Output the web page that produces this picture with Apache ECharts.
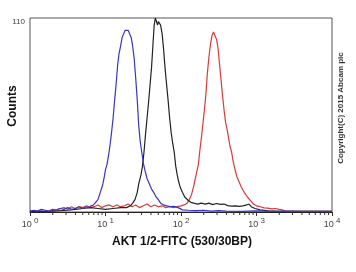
<!DOCTYPE html>
<html>
<head>
<meta charset="utf-8">
<script src="https://cdn.jsdelivr.net/npm/echarts@6/dist/echarts.min.js"></script>
<style>
html,body{margin:0;padding:0;background:#fff;}
#chart{width:356px;height:272px;}
</style>
</head>
<body>
<div id="chart"></div>
<script>
// Histogram data: x positions as log10(intensity) exponents, y = counts
const redLogX = [0.00,0.10,0.20,0.30,0.40,0.45,0.50,0.55,0.60,0.65,0.70,0.75,0.80,0.85,0.90,0.95,1.00,1.05,1.10,1.15,1.20,1.25,1.30,1.35,1.40,1.45,1.50,1.55,1.60,1.65,1.70,1.75,1.80,1.85,1.90,1.95,2.00,2.04,2.08,2.11,2.14,2.17,2.20,2.23,2.25,2.27,2.29,2.31,2.33,2.35,2.37,2.39,2.41,2.43,2.45,2.47,2.49,2.51,2.53,2.55,2.57,2.59,2.61,2.63,2.65,2.67,2.69,2.71,2.74,2.77,2.80,2.84,2.88,2.92,2.96,3.00,3.05,3.10,3.15,3.20,3.25,3.30,3.34,3.38,3.60,4.00];
const redCounts = [0.3,0.5,0.4,0.8,2,2.5,1.5,3,2,3,2.5,3.5,2.5,3,4,2.5,3.5,4,3,4,3,3.5,4.5,3,4,2.5,3.5,4.5,3,4,3,3.5,2.5,3,2.5,3,3.5,4,5,7,10,15,21,27,35,42,50,58,67,79,88,95,100,102,101,98,93,84,75,66,58,51,47,42,37,34,29,25,20,17,14,11,8.5,6.5,4.5,3.5,3,2.3,2.2,1.8,2,1.5,1.2,0.5,0.3,0.3];

const blackLogX = [0.00,0.30,0.50,0.60,0.70,0.80,0.90,1.00,1.10,1.20,1.28,1.33,1.36,1.39,1.42,1.44,1.47,1.49,1.51,1.53,1.55,1.57,1.59,1.61,1.63,1.645,1.66,1.675,1.69,1.70,1.715,1.73,1.75,1.77,1.79,1.81,1.83,1.85,1.87,1.89,1.91,1.93,1.95,1.97,1.99,2.02,2.05,2.09,2.13,2.17,2.22,2.27,2.32,2.37,2.42,2.47,2.52,2.57,2.62,2.67,2.72,2.77,2.82,2.87,2.90,2.93,2.98,3.05,3.15,3.30,3.60,4.00];
const blackCounts = [0.3,0.5,1,1.5,2,2.5,2,1.5,2,2.5,2.5,3.5,5,7,11,16,21,26,34,44,53,62,72,82,96,106,110,108,106,108,109,106,101,92,81,72,63,53,45,39,34,26,21,17,14,11,8.5,6.8,5.5,5,4.5,5,4.5,5,4.2,4.8,4.3,4.5,3.6,3.3,3.5,3.2,3.5,4,4.5,3,2,1.2,0.6,0.4,0.3,0.3];

const blueLogX = [0.00,0.05,0.10,0.15,0.20,0.25,0.30,0.35,0.40,0.45,0.50,0.55,0.60,0.65,0.70,0.74,0.78,0.81,0.84,0.87,0.90,0.93,0.96,0.98,1.00,1.02,1.04,1.06,1.08,1.10,1.12,1.14,1.16,1.18,1.20,1.22,1.24,1.26,1.28,1.30,1.32,1.34,1.36,1.38,1.40,1.42,1.44,1.46,1.48,1.50,1.52,1.55,1.58,1.61,1.64,1.67,1.70,1.73,1.77,1.81,1.86,1.91,1.96,2.02,2.10,2.20,2.30,2.40,2.50,2.60,2.80,3.00,3.20,3.40,3.60,3.80,4.00];
const blueCounts = [0.5,1,0.5,1.5,1,0.5,1.5,1,2,1.5,2.5,1.5,2,3,2,3,2.5,3.5,4,5.5,7,11,15,19,24,27,32,38,45,53,63,72,83,90,94,99,101,103,104,103,102,99,94,87,76,64,49,40,34,28,24,19,16,13,11,8.5,7,5,4,3.5,3,3.2,2.5,1.2,1,0.8,1,0.5,0.8,0.5,0.4,0.6,0.3,0.5,0.3,0.4,0.3];

const xTickExponents = [0, 1, 2, 3, 4];
const yTickLabels = ['110'];
const minorTickMultipliers = [2, 3, 4, 5, 6, 7, 8, 9];

const xTitle = 'AKT 1/2-FITC (530/30BP)';
const yTitle = 'Counts';
const copyright = 'Copyright(C) 2015 Abcam plc';

const FONT = '"Liberation Sans", Arial, sans-serif';

function toPairs(logX, counts) {
  return logX.map((l, i) => [Math.pow(10, l), counts[i]]);
}

const minorTicks = [];
for (let d = 0; d < 4; d++) {
  minorTickMultipliers.forEach(m => minorTicks.push([m * Math.pow(10, d), 0]));
}

const chart = echarts.init(document.getElementById('chart'), null, {renderer: 'canvas'});
chart.setOption({
  animation: false,
  backgroundColor: '#fff',
  grid: {left: 30, top: 18, right: 24, bottom: 60, show: true, borderColor: '#555', borderWidth: 1, backgroundColor: 'transparent'},
  xAxis: {
    type: 'log',
    logBase: 10,
    min: 1,
    max: 10000,
    axisLine: {show: true, lineStyle: {color: '#222', width: 1}},
    axisTick: {show: true, length: 4, lineStyle: {color: '#333'}},
    splitLine: {show: false},
    axisLabel: {
      margin: 4,
      formatter: function (v) {
        const e = Math.round(Math.log10(v));
        return '{a|10}{b| ' + e + '}';
      },
      rich: {
        a: {fontSize: 9, fontFamily: FONT, color: '#444', padding: [4, 0, 0, 0]},
        b: {fontSize: 8, fontFamily: FONT, color: '#444', padding: [0, 0, 4, 0]}
      }
    }
  },
  yAxis: {
    type: 'value',
    min: 0,
    max: 110,
    interval: 110,
    axisLine: {show: false},
    axisTick: {show: false},
    splitLine: {show: false},
    axisLabel: {
      margin: 5,
      fontSize: 8,
      fontFamily: FONT,
      color: '#444',
      verticalAlign: 'top',
      formatter: function (v) { return v === 110 ? yTickLabels[0] : ''; }
    }
  },
  graphic: [
    {type: 'text', left: 112, top: 236, style: {text: xTitle, font: 'bold 12px ' + FONT, fill: '#111'}},
    {type: 'text', x: 13, y: 106, rotation: Math.PI / 2, style: {text: yTitle, font: 'bold 12px ' + FONT, fill: '#111', align: 'center', verticalAlign: 'middle'}},
    {type: 'text', x: 341, y: 108, rotation: Math.PI / 2, style: {text: copyright, font: 'bold 8px ' + FONT, fill: '#333', align: 'center', verticalAlign: 'middle'}}
  ],
  series: [
    {type: 'custom', silent: true, clip: false, data: minorTicks, z: 5,
     renderItem: function (params, api) {
       const p = api.coord([api.value(0), 0]);
       return {type: 'line', shape: {x1: p[0], y1: p[1], x2: p[0], y2: p[1] + 3}, style: {stroke: '#333', lineWidth: 1}};
     }},
    {type: 'line', data: toPairs(redLogX, redCounts), showSymbol: false, lineStyle: {color: '#d93a3a', width: 1.2}, z: 2, clip: true},
    {type: 'line', data: toPairs(blackLogX, blackCounts), showSymbol: false, lineStyle: {color: '#222222', width: 1.2}, z: 3, clip: true},
    {type: 'line', data: toPairs(blueLogX, blueCounts), showSymbol: false, lineStyle: {color: '#3a34c4', width: 1.2}, z: 4, clip: true}
  ]
});
</script>
</body>
</html>
